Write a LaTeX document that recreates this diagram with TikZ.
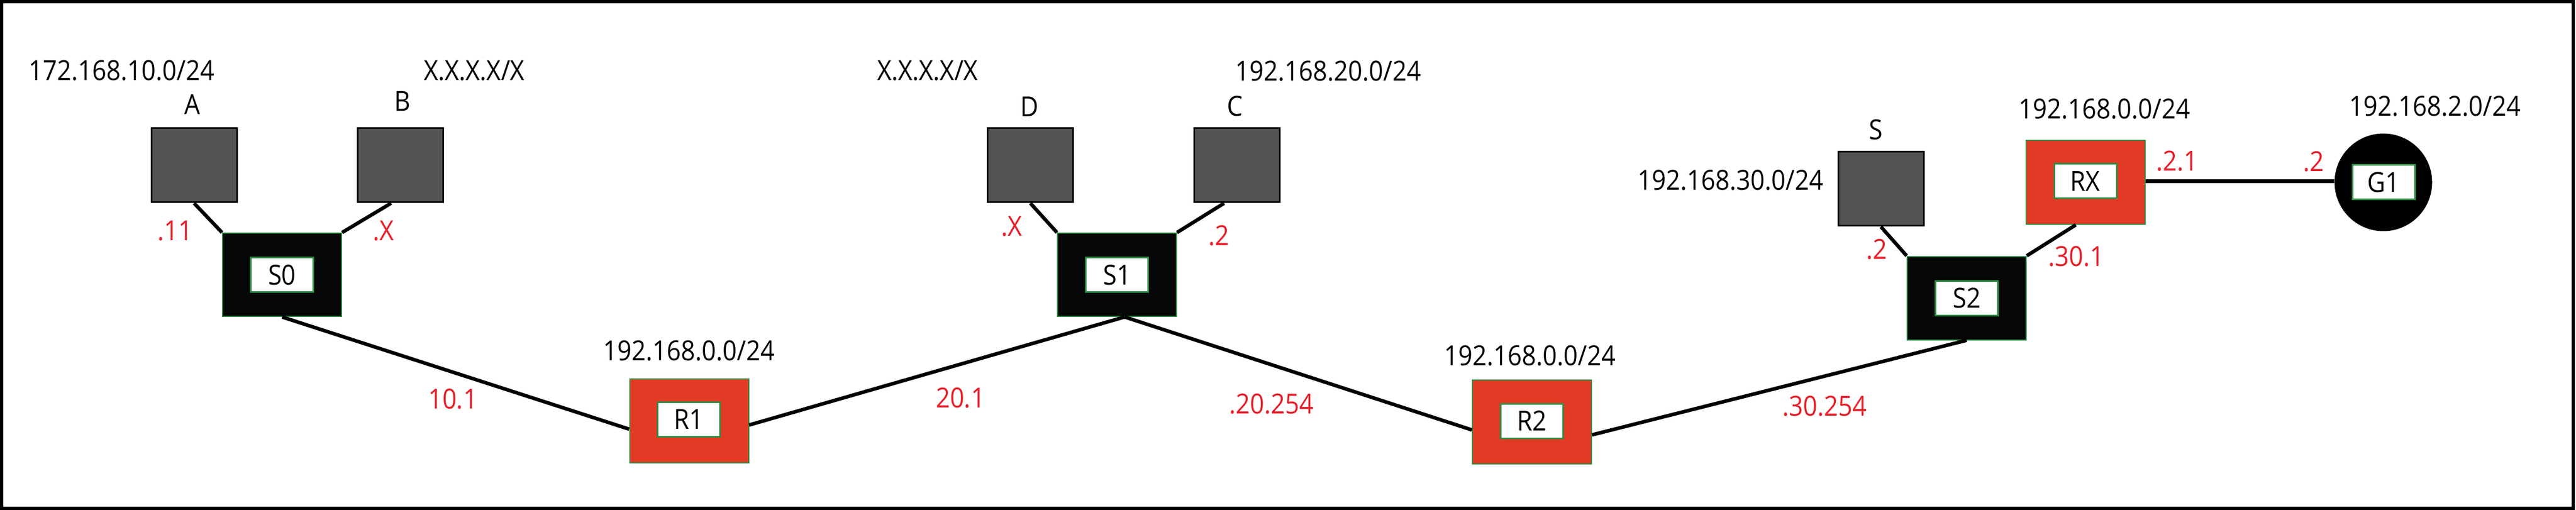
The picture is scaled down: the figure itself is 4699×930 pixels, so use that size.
\documentclass[tikz,border=0pt]{standalone}
\usepackage{fontspec}
\setmainfont{Open Sans}[FakeStretch=0.9]
\definecolor{routerred}{RGB}{226,58,36}
\definecolor{devgray}{RGB}{84,83,84}
\definecolor{swblack}{RGB}{5,8,7}
\definecolor{edgegreen}{RGB}{46,139,67}
\definecolor{labelred}{RGB}{230,30,40}
\begin{document}
\begin{tikzpicture}[x=0.5pt,y=-0.5pt,
  lbl/.style={anchor=base, inner sep=0pt, font=\fontsize{25.2}{30}\selectfont, text=black},
  iplbl/.style={lbl, text=labelred},
  hostbox/.style={draw=black, line width=1.5pt, fill=devgray, minimum width=78pt, minimum height=67.5pt, inner sep=0pt},
  switchbox/.style={draw=edgegreen, line width=1pt, fill=swblack, minimum width=108.5pt, minimum height=76pt, inner sep=0pt},
  routerbox/.style={draw=edgegreen, line width=1pt, fill=routerred, minimum width=108.5pt, minimum height=76.5pt, inner sep=0pt},
  gwcircle/.style={circle, fill=black, minimum size=89pt, inner sep=0pt},
  tagbox/.style={draw=edgegreen, line width=1.5pt, fill=white, minimum width=57pt, minimum height=31.5pt, inner sep=0pt, font=\fontsize{25.2}{30}\selectfont},
  link/.style={line width=3.25pt, draw=black}
]
\useasboundingbox (0,0) rectangle (4699,930);
\fill[white] (0,0) rectangle (4699,930);
\draw[line width=3pt] (3,3) rectangle (4694,927);

% hosts
\node[hostbox] (A) at (354,301.5) {};
\node[hostbox] (B) at (730.5,301.5) {};
\node[hostbox] (D) at (1879.5,301.5) {};
\node[hostbox] (C) at (2256,301.5) {};
\node[hostbox] (S) at (3431,344.5) {};

% switches
\node[switchbox] (S0) at (514.5,501) {};
\node[switchbox] (S1) at (2037.5,501) {};
\node[switchbox] (S2) at (3587.5,543.5) {};

% routers
\node[routerbox] (R1) at (1257,767.5) {};
\node[routerbox] (R2) at (2794.5,769.5) {};
\node[routerbox] (RX) at (3804.5,332.5) {};

% gateway
\node[gwcircle] (G1) at (4347.5,332.5) {};

% tags
\node[tagbox] (S0t) at (S0) {S0};
\node[tagbox] (S1t) at (S1) {S1};
\node[tagbox] (S2t) at (S2) {S2};
\node[tagbox] (R1t) at (1256.5,764.5) {R1};
\node[tagbox] (R2t) at (2794,767.5) {R2};
\node[tagbox] (RXt) at (3804,330.5) {RX};
\node[tagbox] (G1t) at (4348,332.5) {G1};

% links
\draw[link] (A.south) -- (S0.north west);
\draw[link] ([xshift=-8.5pt]B.south) -- (S0.north east);
\draw[link] (D.south) -- (S1.north west);
\draw[link] ([xshift=-11.5pt]C.south) -- (S1.north east);
\draw[link] (S.south) -- (S2.north west);
\draw[link] ([xshift=-9pt]RX.south) -- (S2.north east);
\draw[link] ([yshift=1pt]RX.east) -- ([yshift=1pt]G1.west);
\draw[link] (S0.south) -- ([yshift=-7.5pt]R1.west);
\draw[link] ([yshift=-3.75pt]R1.east) -- ([xshift=7pt]S1.south);
\draw[link] ([xshift=7pt]S1.south) -- ([yshift=-7.25pt]R2.west);
\draw[link] ([yshift=-11.75pt]R2.east) -- (S2.south);

% black labels
\node[lbl] (nA) at (351,209) {A};
\node[lbl] (nB) at (734,203) {B};
\node[lbl] (nD) at (1878,213) {D};
\node[lbl] (nC) at (2253,212) {C};
\node[lbl] (nS) at (3422,255) {S};
\node[lbl] (netA) at (222,147) {172.168.10.0/24};
\node[lbl] (netB) at (865,147) {X.X.X.X/X};
\node[lbl] (netD) at (1692,147) {X.X.X.X/X};
\node[lbl] (netC) at (2423,148) {192.168.20.0/24};
\node[lbl] (netR1) at (1257,657) {192.168.0.0/24};
\node[lbl] (netR2) at (2791,666) {192.168.0.0/24};
\node[lbl] (netS) at (3157,347) {192.168.30.0/24};
\node[lbl] (netRX) at (3839,217) {192.168.0.0/24};
\node[lbl] (netG1) at (4442,212) {192.168.2.0/24};

% red address labels
\node[iplbl] (ipA) at (319,438) {.11};
\node[iplbl] (ipB) at (700,438) {.X};
\node[iplbl] (ipD) at (1846,430) {.X};
\node[iplbl] (ipC) at (2223,447) {.2};
\node[iplbl] (ipR1a) at (826,745) {10.1};
\node[iplbl] (ipR1b) at (1752,743) {20.1};
\node[iplbl] (ipR2a) at (2319,754) {.20.254};
\node[iplbl] (ipR2b) at (3328,758) {.30.254};
\node[iplbl] (ipS) at (3423,473) {.2};
\node[iplbl] (ipRXa) at (3787,485) {.30.1};
\node[iplbl] (ipRXb) at (3971,312) {.2.1};
\node[iplbl] (ipG1) at (4220,313) {.2};
\end{tikzpicture}
\end{document}
